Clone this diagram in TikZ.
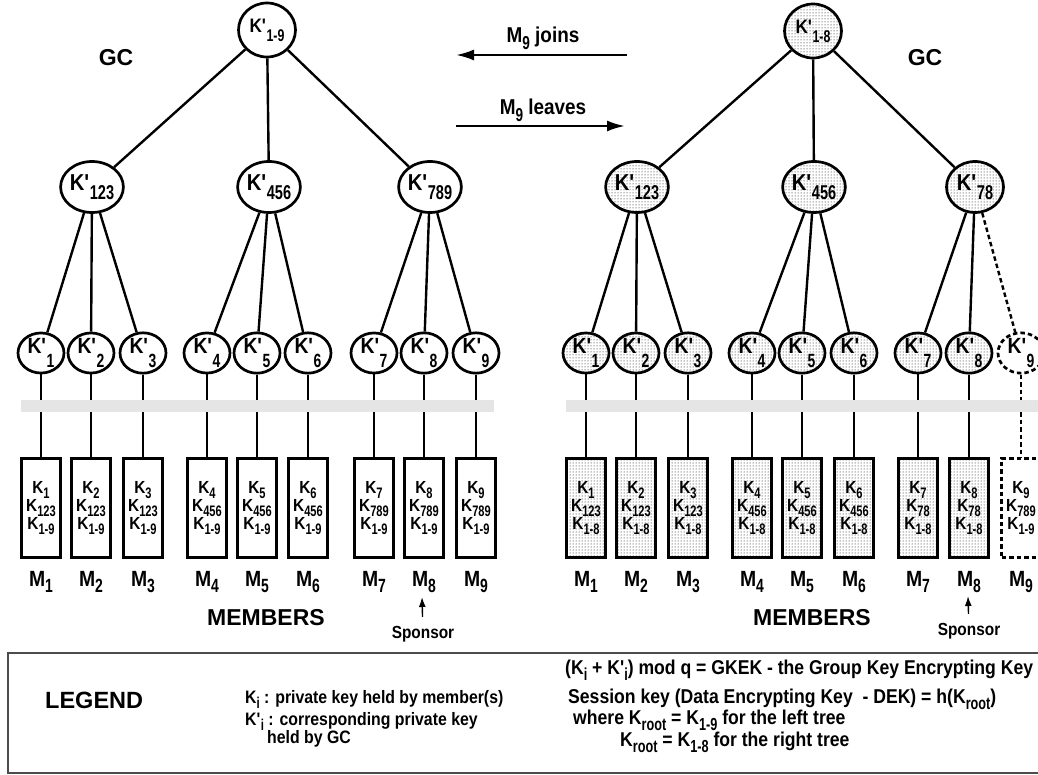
\documentclass[tikz,border=0pt]{standalone}
\usepackage{fontspec}
\setmainfont{Liberation Sans}
\newfontfamily\narrow{Liberation Sans}[FakeStretch=0.88]
\usepackage{graphicx}
\usetikzlibrary{arrows.meta, positioning, shapes.geometric, patterns}

% lowered, narrow subscript
\newcommand{\dn}[2][-0.3em]{\raisebox{#1}{\scalebox{0.72}[0.87]{#2}}}
\newcommand{\kp}{K\textquotesingle}
\newcommand{\fs}[1]{\fontsize{#1}{#1}\selectfont\bfseries}
\newcommand{\fn}[1]{\narrow\fontsize{#1}{#1}\selectfont\bfseries}

\begin{document}
\begin{tikzpicture}[x=1pt, y=-1pt,
  key/.style={ellipse, draw, line width=2.7pt, inner sep=0pt, minimum width=57pt, minimum height=51pt, font=\fn{23}},
  rootkey/.style={key, minimum height=54pt, font=\fn{19.5}},
  leafkey/.style={key, minimum width=46pt, minimum height=40pt, font=\fn{22}},
  newkey/.style={pattern=dots},
  gone/.style={dash pattern=on 4.5pt off 3pt},
  member/.style={rectangle, draw, line width=2.7pt, minimum width=39pt, minimum height=99pt, inner sep=0pt, align=center, font=\narrow\fontsize{17.5}{18}\selectfont\bfseries},
  mname/.style={inner sep=0pt, font=\fn{22}},
  branch/.style={line width=2.4pt},
  bus/.style={rectangle, fill=black!10, inner sep=0pt, minimum height=12pt, minimum width=473pt},
  title/.style={font=\fs{23}},
  move/.style={-{Latex[length=18pt, width=11pt]}, line width=2.4pt},
  movelabel/.style={anchor=base, inner sep=0pt, font=\fn{21.5}},
  sponsor/.style={font=\fn{17.5}, inner sep=1pt},
  sparrow/.style={-{Latex[length=10pt, width=7pt]}, line width=1.4pt, shorten <=8pt},
  legend/.style={anchor=base west, inner sep=0pt, font=\fn{18}},
  formula/.style={legend, font=\fn{20}}
]
  \useasboundingbox (0,0) rectangle (1038,775);

  % Left tree (M9 in the group)
  \node[rootkey] (r) at (267,30) {\kp\dn[-0.45em]{1-9}};
  \node[key] (a) at (92,187) {\kp\dn[-0.4em]{123}};
  \node[key] (b) at (269,187) {\kp\dn[-0.4em]{456}};
  \node[key] (c) at (430,187) {\kp\dn[-0.4em]{789}};
  \draw[branch] (r) -- (a);
  \draw[branch] (r) -- (b);
  \draw[branch] (r) -- (c);

  \foreach \i/\x/\p/\g in {1/41/a/123, 2/91/a/123, 3/143/a/123, 4/207/b/456, 5/257/b/456, 6/308/b/456, 7/374/c/789, 8/424/c/789, 9/476/c/789} {
    \node[leafkey] (l\i) at (\x,353) {\kp\dn[-0.6em]{\i}};
    \node[member] (u\i) at (\x,508) {K\dn{\i}\\K\dn{\g}\\K\dn{1-9}};
    \node[mname, below=12pt of u\i] (m\i) {M\dn{\i}};
    \draw[branch] (\p) -- (l\i);
    \draw[branch] (l\i) -- (u\i);
  }
  \node[bus] (busL) at (257.5,406) {};

  % Right tree (after M9 leaves)
  \node[rootkey, newkey] (R) at (813,31) {\kp\dn[-0.45em]{1-8}};
  \node[key, newkey] (A) at (637,187) {\kp\dn[-0.4em]{123}};
  \node[key, newkey] (B) at (814,187) {\kp\dn[-0.4em]{456}};
  \node[key, newkey] (C) at (975,187) {\kp\dn[-0.4em]{78}};
  \draw[branch] (R) -- (A);
  \draw[branch] (R) -- (B);
  \draw[branch] (R) -- (C);

  \foreach \i/\x/\p/\g in {1/586/A/123, 2/636/A/123, 3/688/A/123, 4/752/B/456, 5/802/B/456, 6/854/B/456, 7/918/C/78, 8/969/C/78} {
    \node[leafkey, newkey] (L\i) at (\x,353) {\kp\dn[-0.6em]{\i}};
    \node[member, newkey] (U\i) at (\x,508) {K\dn{\i}\\K\dn{\g}\\K\dn{1-8}};
    \node[mname, below=12pt of U\i] (N\i) {M\dn{\i}};
    \draw[branch] (\p) -- (L\i);
    \draw[branch] (L\i) -- (U\i);
  }
  % leaving member
  \node[leafkey, gone] (L9) at (1021,353) {\kp\dn[-0.6em]{9}};
  \node[member, gone] (U9) at (1021,508) {K\dn{9}\\K\dn{789}\\K\dn{1-9}};
  \node[mname, below=12pt of U9] (N9) {M\dn{9}};
  \draw[branch, gone] (C) -- (L9);
  \draw[branch, gone] (L9) -- (U9);
  \node[bus] (busR) at (802.5,406) {};

  % Labels
  \node[title] (gcL) at (116,58) {GC};
  \node[title] (gcR) at (925,58) {GC};
  \node[title] (memL) at (266,618) {MEMBERS};
  \node[title] (memR) at (812,618) {MEMBERS};

  % Join / leave arrows
  \node[movelabel] (join) at (543,43) {M\dn{9} joins};
  \node[movelabel] (leave) at (543,115) {M\dn{9} leaves};
  \coordinate (jS) at (627,55);
  \coordinate (jE) at (456,55);
  \coordinate (lS) at (456,126);
  \coordinate (lE) at (625,126);
  \draw[move] (jS) -- (jE);
  \draw[move] (lS) -- (lE);

  % Sponsors
  \node[sponsor] (spL) at (423,634) {Sponsor};
  \node[sponsor] (spR) at (969,631) {Sponsor};
  \coordinate (tL) at (422,597);
  \coordinate (tR) at (968,596);
  \draw[sparrow] (spL) -- (tL);
  \draw[sparrow] (spR) -- (tR);

  % Legend
  \draw[black!70, line width=1.3pt] (8,653) rectangle (1045,773);
  \node[legend, font=\fs{23.5}] (lg) at (45,708) {LEGEND};
  \node[legend] (k1) at (245,703) {K\dn{i} : private key held by member(s)};
  \node[legend] (k2) at (245,725) {\kp\dn{i} : corresponding private key};
  \node[legend] (k3) at (267,743) {held by GC};
  \node[formula] (f1) at (565,674) {(K\dn{i} + K'\dn{i}) mod q = GKEK - the Group Key Encrypting Key};
  \node[formula] (f2) at (568,703) {Session key (Data Encrypting Key~ - DEK) = h(K\dn{root})};
  \node[formula] (f3) at (573,724) {where K\dn{root} = K\dn{1-9} for the left tree};
  \node[formula] (f4) at (620,746) {K\dn{root} = K\dn{1-8} for the right tree};
\end{tikzpicture}
\end{document}
